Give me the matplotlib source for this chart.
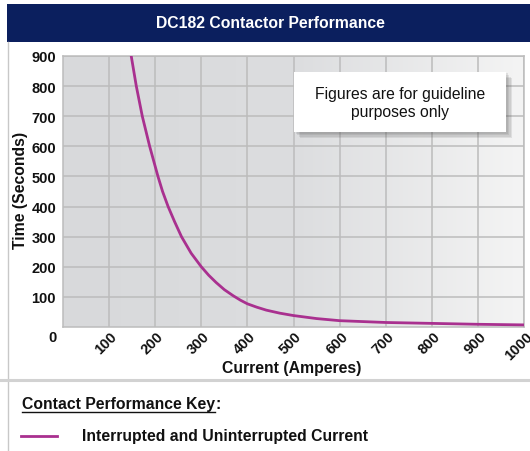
import matplotlib
matplotlib.use("Agg")
import matplotlib.pyplot as plt
import numpy as np
from matplotlib.patches import Rectangle
from matplotlib.lines import Line2D
import matplotlib.transforms as mtransforms

plt.rcParams['font.family'] = ['Liberation Sans', 'DejaVu Sans']

title = "DC182 Contactor Performance"
current = [148, 159, 172, 188, 206, 216, 228, 242, 257, 278, 300, 316, 332, 350, 369,
           385, 400, 420, 441, 470, 500, 550, 600, 700, 800, 900, 1000]
time_s = [900, 800, 700, 600, 500, 450, 400, 350, 300, 245, 200, 172, 148, 124, 104,
          89, 77, 66, 56, 46, 38, 28, 21, 15, 12, 9, 7]
x_ticks = [100, 200, 300, 400, 500, 600, 700, 800, 900, 1000]
y_ticks = [100, 200, 300, 400, 500, 600, 700, 800, 900]
series_name = "Interrupted and Uninterrupted Current"
note = "Figures are for guideline\npurposes only"
key_title = "Contact Performance Key"

W, H = 530, 452
fig = plt.figure(figsize=(W / 100, H / 100), dpi=100)
fig.patch.set_facecolor('white')

def fx(px):
    return px / W

def fy(py):
    return 1 - py / H

FS = 11.3
TK = 10.5
INK = '#111111'
PURPLE = '#a9308f'

# title bar
fig.patches.append(Rectangle((fx(7), fy(43)), fx(530) - fx(7), fy(5) - fy(43),
                             transform=fig.transFigure, facecolor='#0b1f5e', edgecolor='none'))
fig.text(fx(270), fy(24), title, color='white', fontsize=FS, fontweight='bold',
         ha='center', va='center')
# left border of panel
fig.add_artist(Line2D([fx(7.5), fx(7.5)], [fy(43), 0], transform=fig.transFigure,
                      color='#c8c8c8', lw=1))
# separator
fig.add_artist(Line2D([0, 1], [fy(381), fy(381)], transform=fig.transFigure,
                      color='#d2d2d2', lw=2.2))

ax = fig.add_axes([fx(63), fy(328), fx(524) - fx(63), fy(57) - fy(328)])
ax.set_xlim(0, 1000)
ax.set_ylim(0, 900)
grad = np.linspace(0, 1, 256).reshape(1, -1)
cmap = matplotlib.colors.LinearSegmentedColormap.from_list('g', ['#d8d9db', '#dcdddf', '#f4f4f4'])
ax.imshow(grad, extent=[0, 1000, 0, 900], aspect='auto', cmap=cmap, zorder=0)
ax.set_axisbelow(True)
ax.grid(True, color='#bcbcbc', lw=1.1)
ax.set_xticks(x_ticks)
ax.set_yticks(y_ticks)
ax.tick_params(length=0, pad=5)
for s in ax.spines.values():
    s.set_color('#bcbcbc')
    s.set_linewidth(1.1)
ax.set_yticklabels([str(v) for v in y_ticks], fontsize=TK, fontweight='bold', color=INK)
ax.set_xticklabels([str(v) for v in x_ticks], fontsize=TK, fontweight='bold', color=INK,
                   rotation=45, ha='right', va='center', rotation_mode='anchor')
for lab in ax.get_xticklabels():
    lab.set_transform(lab.get_transform() + mtransforms.ScaledTranslation(6 / 100, 0, fig.dpi_scale_trans))
ax.text(-0.014, -0.012, '0', transform=ax.transAxes, fontsize=TK, fontweight='bold',
        ha='right', va='top', color=INK)

fig.text(fx(21), fy(190), 'Time (Seconds)', fontsize=FS, fontweight='bold', rotation=90,
         ha='center', va='center', color=INK)
fig.text(fx(292), fy(368), 'Current (Amperes)', fontsize=FS, fontweight='bold',
         ha='center', va='center', color=INK)

ax.plot(current, time_s, color=PURPLE, lw=2, solid_capstyle='round', zorder=3)

# note box with shadow
for i, a in enumerate([0.12, 0.12, 0.12, 0.12]):
    d = 1.5 * (i + 1)
    fig.patches.append(Rectangle((fx(294 + d), fy(133 + d)), fx(506) - fx(294), fy(73) - fy(133),
                                 transform=fig.transFigure, facecolor='#555555', edgecolor='none',
                                 alpha=a, zorder=4))
fig.patches.append(Rectangle((fx(294), fy(133)), fx(506) - fx(294), fy(73) - fy(133),
                             transform=fig.transFigure, facecolor='white', edgecolor='none', zorder=5))
fig.text(fx(400), fy(104), note, fontsize=FS, ha='center', va='center', color=INK,
         linespacing=1.25, zorder=6)

# key
kt = fig.text(fx(22), fy(405), key_title, fontsize=FS, fontweight='bold',
              ha='left', va='center', color=INK)
fig.canvas.draw()
bb = kt.get_window_extent(renderer=fig.canvas.get_renderer())
x1 = bb.x1 / W
fig.add_artist(Line2D([fx(22), x1], [fy(413), fy(413)], transform=fig.transFigure,
                      color=INK, lw=1.0))
fig.text(x1 + 0.5 / W, fy(405), ':', fontsize=FS, fontweight='bold', ha='left', va='center',
         color=INK)
fig.add_artist(Line2D([fx(21), fx(57)], [fy(437), fy(437)], transform=fig.transFigure,
                      color=PURPLE, lw=2))
fig.text(fx(82), fy(437), series_name, fontsize=FS, fontweight='bold', ha='left', va='center',
         color=INK)

fig.savefig('out.png', dpi=100, facecolor='white')
